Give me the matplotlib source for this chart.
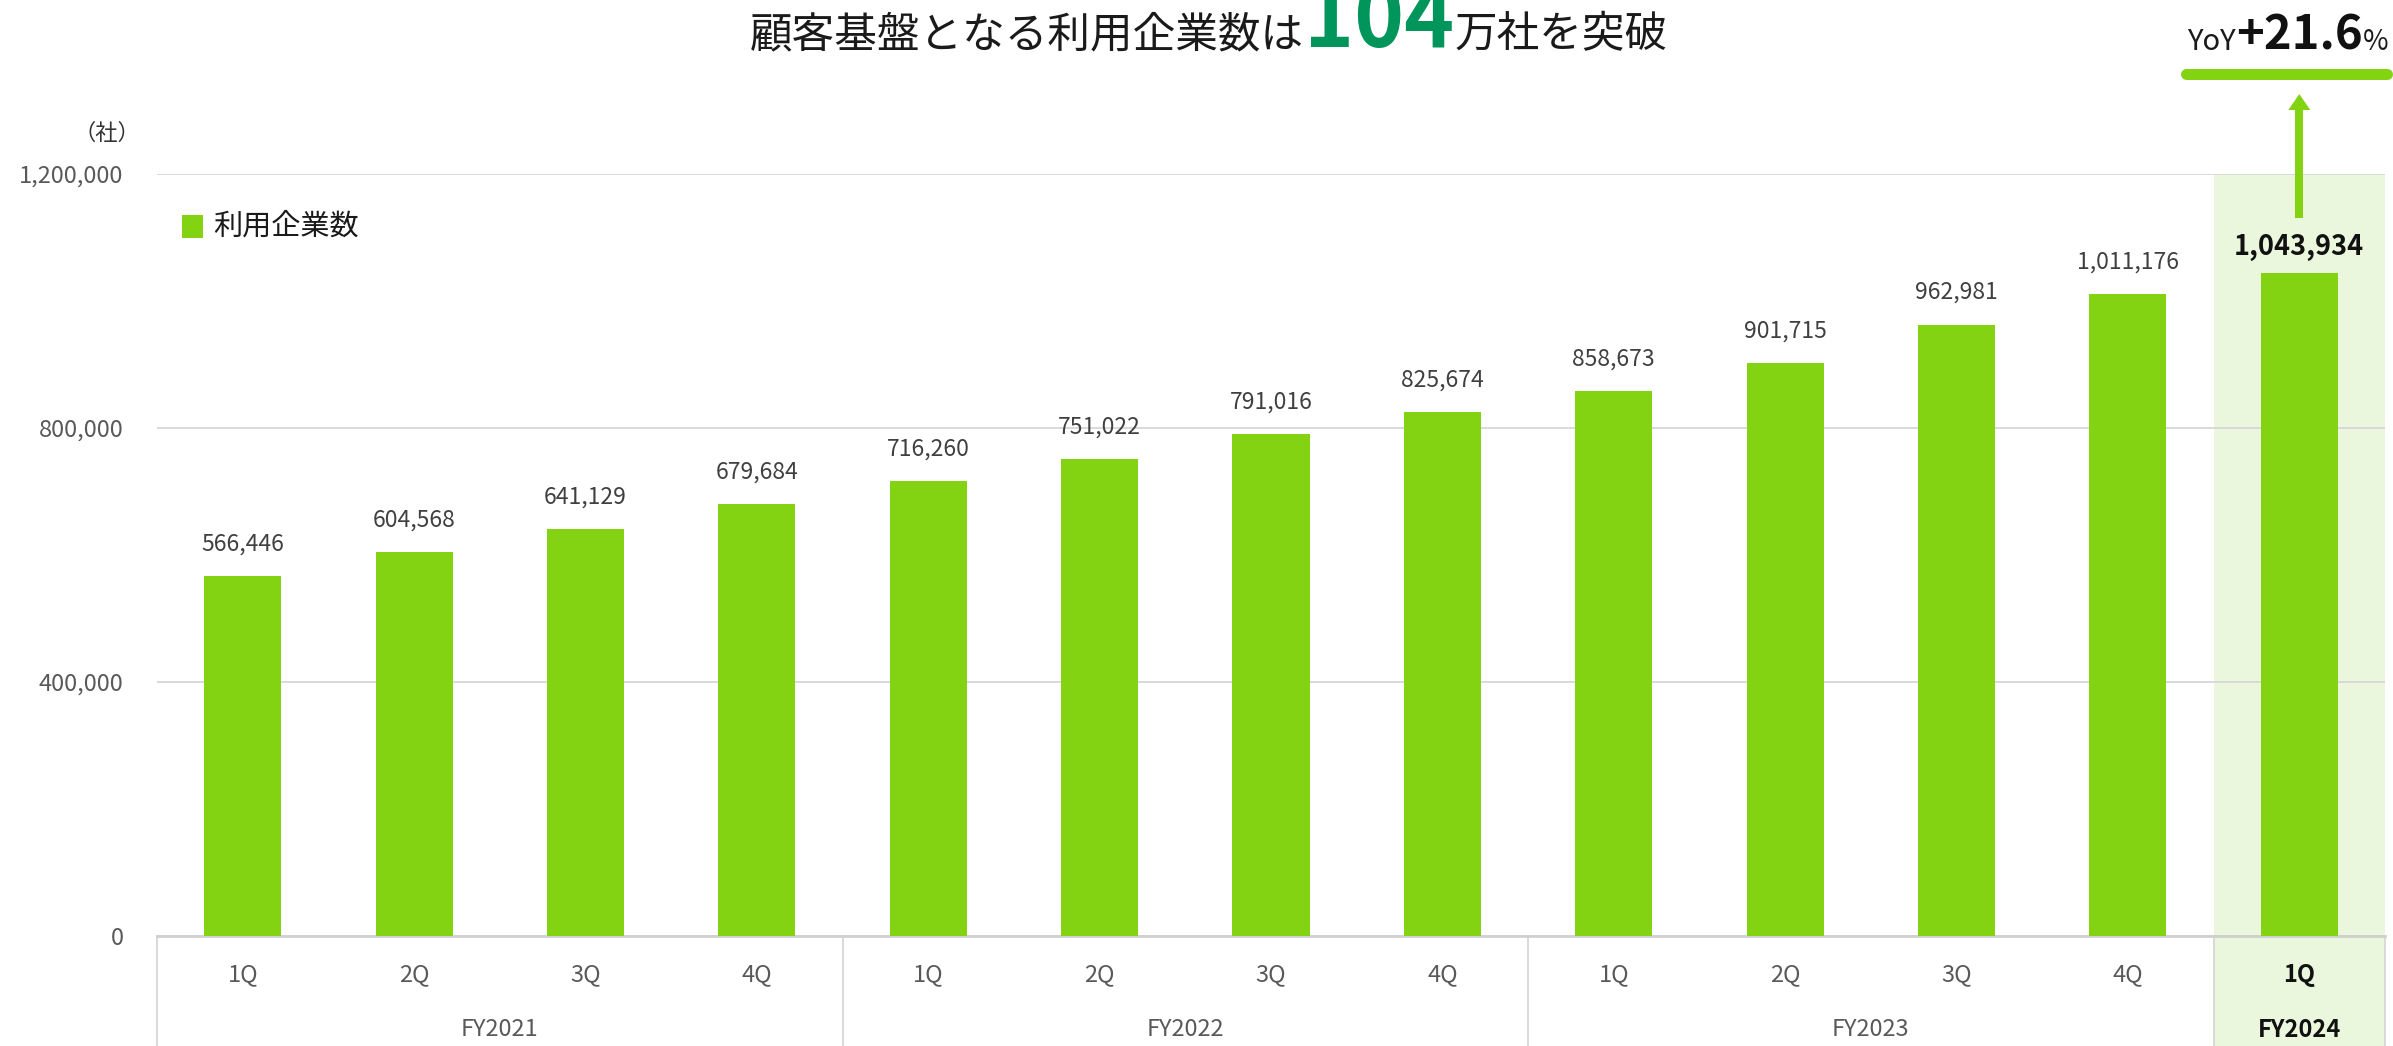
import matplotlib
matplotlib.use('Agg')
import matplotlib.pyplot as plt
from matplotlib.patches import Rectangle, Polygon
from matplotlib.lines import Line2D
import matplotlib.transforms as mtransforms

plt.rcParams['font.family'] = ['Noto Sans CJK JP', 'DejaVu Sans']

# ---------------- data ----------------
quarters = ['1Q', '2Q', '3Q', '4Q', '1Q', '2Q', '3Q', '4Q', '1Q', '2Q', '3Q', '4Q', '1Q']
fiscal_years = ['FY2021', 'FY2022', 'FY2023', 'FY2024']
fy_sizes = [4, 4, 4, 1]
companies = [566446, 604568, 641129, 679684, 716260, 751022, 791016,
             825674, 858673, 901715, 962981, 1011176, 1043934]
y_ticks = [0, 400000, 800000, 1200000]
yoy_parts = ['YoY', '+21.6', '%']
title_parts = ['顧客基盤となる利用企業数は', '104', '万社を突破']
legend_label = '利用企業数'
unit_label = '（社）'

# ---------------- style ----------------
GREEN = '#84D313'
BAND = '#EBF7DD'
DARKGREEN = '#00955A'
GRID = '#D9D9D9'
GRAY = '#595959'

W, H = 2393, 1046
DPI = 100
fig = plt.figure(figsize=(W / DPI, H / DPI), dpi=DPI)


def fx(px):
    return px / W


def fy(py):
    return 1 - py / H


AX_L, AX_R, AX_T, AX_B = 157, 2385, 174, 936
ax = fig.add_axes([fx(AX_L), fy(AX_B), fx(AX_R) - fx(AX_L), fy(AX_T) - fy(AX_B)])


def ay(py):
    return (AX_B - py) / (AX_B - AX_T)


n = len(companies)
xs = list(range(n))
ax.set_xlim(-0.5, n - 0.5)
ax.set_ylim(y_ticks[0], y_ticks[-1])

blend = mtransforms.blended_transform_factory(ax.transData, ax.transAxes)

# highlight band for latest quarter
ax.add_patch(Rectangle((n - 1.5, ay(H + 5)), 1, 1 - ay(H + 5), transform=blend,
                       facecolor=BAND, edgecolor='none', zorder=0.1, clip_on=False))

ax.bar(xs, companies, width=0.45, color=GREEN, zorder=3)

ax.set_axisbelow(True)
ax.set_yticks(y_ticks)
ax.set_yticklabels([f'{v:,}' for v in y_ticks], fontsize=17, color=GRAY)
ax.yaxis.grid(True, color=GRID, lw=1.4, zorder=0.5)
ax.tick_params(axis='y', length=0, pad=24)
ax.set_xticks([])
for s in ['top', 'right', 'left']:
    ax.spines[s].set_visible(False)
ax.spines['bottom'].set_color('#D0D0D0')
ax.spines['bottom'].set_linewidth(2)

# bar labels
for i, v in enumerate(companies):
    last = (i == n - 1)
    ax.annotate(f'{v:,}', (i, v), xytext=(0, (26 if last else 32) * 72 / DPI),
                textcoords='offset points', ha='center', va='center',
                fontsize=19.5 if last else 16.5,
                fontweight='bold' if last else 'normal',
                color='#111111' if last else '#404040', zorder=4)

# category labels
for i, q in enumerate(quarters):
    last = (i == n - 1)
    ax.text(i, ay(975), q, transform=blend, ha='center', va='center',
            fontsize=17, color='#111111' if last else GRAY,
            fontweight='bold' if last else 'normal')

# fiscal year labels and dividers
start = -0.5
bounds = [start]
for fyl, sz in zip(fiscal_years, fy_sizes):
    c = start + sz / 2
    last = (fyl == fiscal_years[-1])
    ax.text(c, ay(1030), fyl, transform=blend, ha='center', va='center',
            fontsize=17, color='#111111' if last else GRAY,
            fontweight='bold' if last else 'normal')
    start += sz
    bounds.append(start)
for b in bounds:
    ax.plot([b, b], [0, ay(H + 5)], transform=blend, color=GRID, lw=1.4,
            clip_on=False, zorder=1)

# legend
fig.add_artist(Rectangle((fx(182), fy(238)), fx(203) - fx(182), fy(215) - fy(238),
                         transform=fig.transFigure, facecolor=GREEN, edgecolor='none'))
fig.text(fx(213), fy(227), legend_label, ha='left', va='center', fontsize=21, color='#1a1a1a')

# unit label
fig.text(fx(140), fy(133), unit_label, ha='right', va='center', fontsize=16, color='#333333')

renderer = fig.canvas.get_renderer()


def chain(parts, props, x0, base):
    x = x0
    for p, pr in zip(parts, props):
        t = fig.text(fx(x), fy(base), p, ha='left', va='baseline', **pr)
        bb = t.get_window_extent(renderer=renderer)
        x = bb.x1
    return x


# title
chain(title_parts,
      [dict(fontsize=30.7, color='#1a1a1a'),
       dict(fontsize=61, color=DARKGREEN, fontweight='bold'),
       dict(fontsize=30.7, color='#1a1a1a')],
      750, 47)

# YoY annotation
chain(yoy_parts,
      [dict(fontsize=21, color='#1a1a1a'),
       dict(fontsize=34, color='#111111', fontweight='bold'),
       dict(fontsize=20, color='#1a1a1a')],
      2187, 50)

fig.add_artist(Line2D([fx(2186), fx(2387)], [fy(73.5), fy(73.5)], transform=fig.transFigure,
                      lw=11 * 72 / DPI, color=GREEN, solid_capstyle='round'))

# arrow above latest bar
xc = ax.transData.transform((n - 1, 0))[0]
shaft = [(xc - 4, 218), (xc + 4, 218), (xc + 4, 109), (xc - 4, 109)]
head = [(xc - 11, 110), (xc + 11, 110), (xc, 94)]
for poly in (shaft, head):
    fig.add_artist(Polygon([(fx(px), fy(py)) for px, py in poly], closed=True,
                           transform=fig.transFigure, facecolor=GREEN, edgecolor='none'))

fig.savefig('out.png', dpi=DPI)
